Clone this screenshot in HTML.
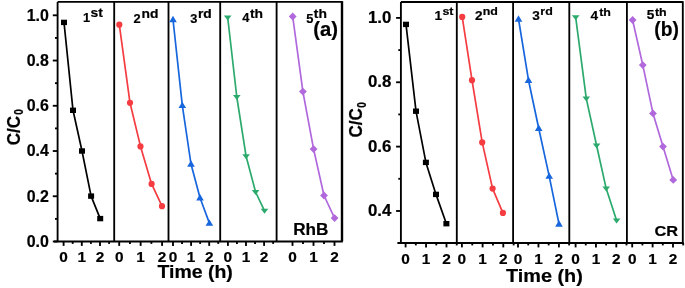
<!DOCTYPE html>
<html><head><meta charset="utf-8"><style>
html,body{margin:0;padding:0;background:#fff;}
body{width:685px;height:288px;overflow:hidden;}
svg{display:block;will-change:transform;}
text{font-family:"Liberation Sans", sans-serif;font-weight:bold;fill:#000;stroke:#000;stroke-width:0.2px;}
.tk{font-size:16.2px;}
.tkx{font-size:15.4px;}
.od{font-size:13px;}
.pl{font-size:19.5px;}
.dye{font-size:16.2px;}
.dye2{font-size:15px;}
.ax{font-size:17.9px;}
.yt{font-size:17px;}
.ys{font-size:10px;}
</style></head><body>
<svg width="685" height="288" viewBox="0 0 685 288">
<rect width="685" height="288" fill="#fff"/>
<path d="M57.6,1.9 H342.0 M57.6,1.9 V241.5 M54.10,241.5 H342.80" stroke="#000" stroke-width="1.85" fill="none"/>
<path d="M342.0,1.10 V241.5" stroke="#000" stroke-width="2.4" fill="none"/>
<path d="M114.2,1.9 V241.5" stroke="#000" stroke-width="1.85" fill="none"/>
<path d="M168.5,1.9 V241.5" stroke="#000" stroke-width="1.85" fill="none"/>
<path d="M220.2,1.9 V241.5" stroke="#000" stroke-width="1.85" fill="none"/>
<path d="M276.6,1.9 V241.5" stroke="#000" stroke-width="1.85" fill="none"/>
<path d="M52.80,241.50 H57.6" stroke="#000" stroke-width="1.85"/>
<text transform="translate(48.90,246.90) scale(0.985,1)" text-anchor="end" class="tk">0.0</text>
<path d="M52.80,196.26 H57.6" stroke="#000" stroke-width="1.85"/>
<text transform="translate(48.90,201.66) scale(0.985,1)" text-anchor="end" class="tk">0.2</text>
<path d="M52.80,151.02 H57.6" stroke="#000" stroke-width="1.85"/>
<text transform="translate(48.90,156.42) scale(0.985,1)" text-anchor="end" class="tk">0.4</text>
<path d="M52.80,105.78 H57.6" stroke="#000" stroke-width="1.85"/>
<text transform="translate(48.90,111.18) scale(0.985,1)" text-anchor="end" class="tk">0.6</text>
<path d="M52.80,60.54 H57.6" stroke="#000" stroke-width="1.85"/>
<text transform="translate(48.90,65.94) scale(0.985,1)" text-anchor="end" class="tk">0.8</text>
<path d="M52.80,15.30 H57.6" stroke="#000" stroke-width="1.85"/>
<text transform="translate(48.90,20.70) scale(0.985,1)" text-anchor="end" class="tk">1.0</text>
<path d="M55.00,218.88 H57.6" stroke="#000" stroke-width="1.85"/>
<path d="M55.00,173.64 H57.6" stroke="#000" stroke-width="1.85"/>
<path d="M55.00,128.40 H57.6" stroke="#000" stroke-width="1.85"/>
<path d="M55.00,83.16 H57.6" stroke="#000" stroke-width="1.85"/>
<path d="M55.00,37.92 H57.6" stroke="#000" stroke-width="1.85"/>
<path d="M63.60,241.5 V245.9" stroke="#000" stroke-width="1.85"/>
<text transform="translate(63.60,262.20) scale(1.0,1)" text-anchor="middle" class="tkx">0</text>
<path d="M72.70,241.5 V243.9" stroke="#000" stroke-width="1.85"/>
<path d="M81.80,241.5 V245.9" stroke="#000" stroke-width="1.85"/>
<text transform="translate(81.80,262.20) scale(1.0,1)" text-anchor="middle" class="tkx">1</text>
<path d="M90.90,241.5 V243.9" stroke="#000" stroke-width="1.85"/>
<path d="M100.00,241.5 V245.9" stroke="#000" stroke-width="1.85"/>
<text transform="translate(100.00,262.20) scale(1.0,1)" text-anchor="middle" class="tkx">2</text>
<path d="M109.10,241.5 V243.9" stroke="#000" stroke-width="1.85"/>
<path d="M119.20,241.5 V245.9" stroke="#000" stroke-width="1.85"/>
<text transform="translate(119.20,262.20) scale(1.0,1)" text-anchor="middle" class="tkx">0</text>
<path d="M129.93,241.5 V243.9" stroke="#000" stroke-width="1.85"/>
<path d="M140.65,241.5 V245.9" stroke="#000" stroke-width="1.85"/>
<text transform="translate(140.65,262.20) scale(1.0,1)" text-anchor="middle" class="tkx">1</text>
<path d="M151.38,241.5 V243.9" stroke="#000" stroke-width="1.85"/>
<path d="M162.10,241.5 V245.9" stroke="#000" stroke-width="1.85"/>
<text transform="translate(162.10,262.20) scale(1.0,1)" text-anchor="middle" class="tkx">2</text>
<path d="M173.00,241.5 V245.9" stroke="#000" stroke-width="1.85"/>
<text transform="translate(173.00,262.20) scale(1.0,1)" text-anchor="middle" class="tkx">0</text>
<path d="M182.05,241.5 V243.9" stroke="#000" stroke-width="1.85"/>
<path d="M191.10,241.5 V245.9" stroke="#000" stroke-width="1.85"/>
<text transform="translate(191.10,262.20) scale(1.0,1)" text-anchor="middle" class="tkx">1</text>
<path d="M200.15,241.5 V243.9" stroke="#000" stroke-width="1.85"/>
<path d="M209.20,241.5 V245.9" stroke="#000" stroke-width="1.85"/>
<text transform="translate(209.20,262.20) scale(1.0,1)" text-anchor="middle" class="tkx">2</text>
<path d="M218.25,241.5 V243.9" stroke="#000" stroke-width="1.85"/>
<path d="M227.90,241.5 V245.9" stroke="#000" stroke-width="1.85"/>
<text transform="translate(227.90,262.20) scale(1.0,1)" text-anchor="middle" class="tkx">0</text>
<path d="M236.95,241.5 V243.9" stroke="#000" stroke-width="1.85"/>
<path d="M246.00,241.5 V245.9" stroke="#000" stroke-width="1.85"/>
<text transform="translate(246.00,262.20) scale(1.0,1)" text-anchor="middle" class="tkx">1</text>
<path d="M255.05,241.5 V243.9" stroke="#000" stroke-width="1.85"/>
<path d="M264.10,241.5 V245.9" stroke="#000" stroke-width="1.85"/>
<text transform="translate(264.10,262.20) scale(1.0,1)" text-anchor="middle" class="tkx">2</text>
<path d="M273.15,241.5 V243.9" stroke="#000" stroke-width="1.85"/>
<path d="M292.50,241.5 V245.9" stroke="#000" stroke-width="1.85"/>
<text transform="translate(292.50,262.20) scale(1.0,1)" text-anchor="middle" class="tkx">0</text>
<path d="M303.00,241.5 V243.9" stroke="#000" stroke-width="1.85"/>
<path d="M313.50,241.5 V245.9" stroke="#000" stroke-width="1.85"/>
<text transform="translate(313.50,262.20) scale(1.0,1)" text-anchor="middle" class="tkx">1</text>
<path d="M324.00,241.5 V243.9" stroke="#000" stroke-width="1.85"/>
<path d="M334.50,241.5 V245.9" stroke="#000" stroke-width="1.85"/>
<text transform="translate(334.50,262.20) scale(1.0,1)" text-anchor="middle" class="tkx">2</text>
<polyline points="64.00,22.40 73.00,110.30 82.00,151.00 91.10,196.10 100.20,218.60" fill="none" stroke="#000" stroke-width="1.7" stroke-linejoin="round"/><rect x="61.00" y="19.70" width="6.0" height="5.4" fill="#000"/><rect x="70.00" y="107.60" width="6.0" height="5.4" fill="#000"/><rect x="79.00" y="148.30" width="6.0" height="5.4" fill="#000"/><rect x="88.10" y="193.40" width="6.0" height="5.4" fill="#000"/><rect x="97.20" y="215.90" width="6.0" height="5.4" fill="#000"/>
<polyline points="119.30,24.70 130.00,102.80 140.50,146.40 151.60,183.90 162.00,206.20" fill="none" stroke="#f43c41" stroke-width="1.7" stroke-linejoin="round"/><circle cx="119.30" cy="24.70" r="3.1" fill="#f43c41"/><circle cx="130.00" cy="102.80" r="3.1" fill="#f43c41"/><circle cx="140.50" cy="146.40" r="3.1" fill="#f43c41"/><circle cx="151.60" cy="183.90" r="3.1" fill="#f43c41"/><circle cx="162.00" cy="206.20" r="3.1" fill="#f43c41"/>
<polyline points="173.00,19.50 182.30,105.40 191.00,164.00 200.00,197.80 209.40,223.10" fill="none" stroke="#1766dd" stroke-width="1.7" stroke-linejoin="round"/><polygon points="173.00,15.80 176.80,22.20 169.20,22.20" fill="#1766dd"/><polygon points="182.30,101.70 186.10,108.10 178.50,108.10" fill="#1766dd"/><polygon points="191.00,160.30 194.80,166.70 187.20,166.70" fill="#1766dd"/><polygon points="200.00,194.10 203.80,200.50 196.20,200.50" fill="#1766dd"/><polygon points="209.40,219.40 213.20,225.80 205.60,225.80" fill="#1766dd"/>
<polyline points="227.70,17.50 236.80,97.00 246.10,156.30 255.60,192.00 264.50,210.80" fill="none" stroke="#2caa6d" stroke-width="1.7" stroke-linejoin="round"/><polygon points="223.90,15.50 231.50,15.50 227.70,20.50" fill="#2caa6d"/><polygon points="233.00,95.00 240.60,95.00 236.80,100.00" fill="#2caa6d"/><polygon points="242.30,154.30 249.90,154.30 246.10,159.30" fill="#2caa6d"/><polygon points="251.80,190.00 259.40,190.00 255.60,195.00" fill="#2caa6d"/><polygon points="260.70,208.80 268.30,208.80 264.50,213.80" fill="#2caa6d"/>
<polyline points="292.70,16.50 302.90,91.60 313.60,149.10 324.00,195.50 334.60,218.10" fill="none" stroke="#b068dc" stroke-width="1.7" stroke-linejoin="round"/><polygon points="292.70,12.60 296.60,16.50 292.70,20.40 288.80,16.50" fill="#b068dc"/><polygon points="302.90,87.70 306.80,91.60 302.90,95.50 299.00,91.60" fill="#b068dc"/><polygon points="313.60,145.20 317.50,149.10 313.60,153.00 309.70,149.10" fill="#b068dc"/><polygon points="324.00,191.60 327.90,195.50 324.00,199.40 320.10,195.50" fill="#b068dc"/><polygon points="334.60,214.20 338.50,218.10 334.60,222.00 330.70,218.10" fill="#b068dc"/>
<path d="M400.9,2.0 H682.8 M400.9,2.0 V243.0 M397.40,243.0 H683.60" stroke="#000" stroke-width="1.85" fill="none"/>
<path d="M682.8,1.20 V243.0" stroke="#000" stroke-width="1.85" fill="none"/>
<path d="M456.8,2.0 V243.0" stroke="#000" stroke-width="1.85" fill="none"/>
<path d="M513.1,2.0 V243.0" stroke="#000" stroke-width="1.85" fill="none"/>
<path d="M569.3,2.0 V243.0" stroke="#000" stroke-width="1.85" fill="none"/>
<path d="M626.9,2.0 V243.0" stroke="#000" stroke-width="1.85" fill="none"/>
<path d="M396.10,210.98 H400.9" stroke="#000" stroke-width="1.85"/>
<text transform="translate(391.30,216.18) scale(1.04,1)" text-anchor="end" class="tk">0.4</text>
<path d="M396.10,146.62 H400.9" stroke="#000" stroke-width="1.85"/>
<text transform="translate(391.30,151.82) scale(1.04,1)" text-anchor="end" class="tk">0.6</text>
<path d="M396.10,82.26 H400.9" stroke="#000" stroke-width="1.85"/>
<text transform="translate(391.30,87.46) scale(1.04,1)" text-anchor="end" class="tk">0.8</text>
<path d="M396.10,17.90 H400.9" stroke="#000" stroke-width="1.85"/>
<text transform="translate(391.30,23.10) scale(1.04,1)" text-anchor="end" class="tk">1.0</text>
<path d="M398.30,178.80 H400.9" stroke="#000" stroke-width="1.85"/>
<path d="M398.30,114.44 H400.9" stroke="#000" stroke-width="1.85"/>
<path d="M398.30,50.08 H400.9" stroke="#000" stroke-width="1.85"/>
<path d="M405.60,243.0 V247.4" stroke="#000" stroke-width="1.85"/>
<text transform="translate(405.60,263.60) scale(1.0,1)" text-anchor="middle" class="tkx">0</text>
<path d="M415.83,243.0 V245.4" stroke="#000" stroke-width="1.85"/>
<path d="M426.05,243.0 V247.4" stroke="#000" stroke-width="1.85"/>
<text transform="translate(426.05,263.60) scale(1.0,1)" text-anchor="middle" class="tkx">1</text>
<path d="M436.28,243.0 V245.4" stroke="#000" stroke-width="1.85"/>
<path d="M446.50,243.0 V247.4" stroke="#000" stroke-width="1.85"/>
<text transform="translate(446.50,263.60) scale(1.0,1)" text-anchor="middle" class="tkx">2</text>
<path d="M456.73,243.0 V245.4" stroke="#000" stroke-width="1.85"/>
<path d="M461.90,243.0 V247.4" stroke="#000" stroke-width="1.85"/>
<text transform="translate(461.90,263.60) scale(1.0,1)" text-anchor="middle" class="tkx">0</text>
<path d="M472.25,243.0 V245.4" stroke="#000" stroke-width="1.85"/>
<path d="M482.60,243.0 V247.4" stroke="#000" stroke-width="1.85"/>
<text transform="translate(482.60,263.60) scale(1.0,1)" text-anchor="middle" class="tkx">1</text>
<path d="M492.95,243.0 V245.4" stroke="#000" stroke-width="1.85"/>
<path d="M503.30,243.0 V247.4" stroke="#000" stroke-width="1.85"/>
<text transform="translate(503.30,263.60) scale(1.0,1)" text-anchor="middle" class="tkx">2</text>
<path d="M513.65,243.0 V245.4" stroke="#000" stroke-width="1.85"/>
<path d="M518.00,243.0 V247.4" stroke="#000" stroke-width="1.85"/>
<text transform="translate(518.00,263.60) scale(1.0,1)" text-anchor="middle" class="tkx">0</text>
<path d="M528.23,243.0 V245.4" stroke="#000" stroke-width="1.85"/>
<path d="M538.45,243.0 V247.4" stroke="#000" stroke-width="1.85"/>
<text transform="translate(538.45,263.60) scale(1.0,1)" text-anchor="middle" class="tkx">1</text>
<path d="M548.67,243.0 V245.4" stroke="#000" stroke-width="1.85"/>
<path d="M558.90,243.0 V247.4" stroke="#000" stroke-width="1.85"/>
<text transform="translate(558.90,263.60) scale(1.0,1)" text-anchor="middle" class="tkx">2</text>
<path d="M569.12,243.0 V245.4" stroke="#000" stroke-width="1.85"/>
<path d="M575.60,243.0 V247.4" stroke="#000" stroke-width="1.85"/>
<text transform="translate(575.60,263.60) scale(1.0,1)" text-anchor="middle" class="tkx">0</text>
<path d="M585.77,243.0 V245.4" stroke="#000" stroke-width="1.85"/>
<path d="M595.95,243.0 V247.4" stroke="#000" stroke-width="1.85"/>
<text transform="translate(595.95,263.60) scale(1.0,1)" text-anchor="middle" class="tkx">1</text>
<path d="M606.12,243.0 V245.4" stroke="#000" stroke-width="1.85"/>
<path d="M616.30,243.0 V247.4" stroke="#000" stroke-width="1.85"/>
<text transform="translate(616.30,263.60) scale(1.0,1)" text-anchor="middle" class="tkx">2</text>
<path d="M626.48,243.0 V245.4" stroke="#000" stroke-width="1.85"/>
<path d="M632.20,243.0 V247.4" stroke="#000" stroke-width="1.85"/>
<text transform="translate(632.20,263.60) scale(1.0,1)" text-anchor="middle" class="tkx">0</text>
<path d="M642.40,243.0 V245.4" stroke="#000" stroke-width="1.85"/>
<path d="M652.60,243.0 V247.4" stroke="#000" stroke-width="1.85"/>
<text transform="translate(652.60,263.60) scale(1.0,1)" text-anchor="middle" class="tkx">1</text>
<path d="M662.80,243.0 V245.4" stroke="#000" stroke-width="1.85"/>
<path d="M673.00,243.0 V247.4" stroke="#000" stroke-width="1.85"/>
<text transform="translate(673.00,263.60) scale(1.0,1)" text-anchor="middle" class="tkx">2</text>
<path d="M683.20,243.0 V245.4" stroke="#000" stroke-width="1.85"/>
<polyline points="406.00,24.40 416.00,111.20 425.90,162.40 436.00,194.40 446.40,223.70" fill="none" stroke="#000" stroke-width="1.7" stroke-linejoin="round"/><rect x="403.00" y="21.70" width="6.0" height="5.4" fill="#000"/><rect x="413.00" y="108.50" width="6.0" height="5.4" fill="#000"/><rect x="422.90" y="159.70" width="6.0" height="5.4" fill="#000"/><rect x="433.00" y="191.70" width="6.0" height="5.4" fill="#000"/><rect x="443.40" y="221.00" width="6.0" height="5.4" fill="#000"/>
<polyline points="462.20,16.90 472.00,80.20 482.20,142.40 492.60,188.60 502.90,212.90" fill="none" stroke="#f43c41" stroke-width="1.7" stroke-linejoin="round"/><circle cx="462.20" cy="16.90" r="3.1" fill="#f43c41"/><circle cx="472.00" cy="80.20" r="3.1" fill="#f43c41"/><circle cx="482.20" cy="142.40" r="3.1" fill="#f43c41"/><circle cx="492.60" cy="188.60" r="3.1" fill="#f43c41"/><circle cx="502.90" cy="212.90" r="3.1" fill="#f43c41"/>
<polyline points="518.50,19.00 528.50,80.20 538.70,128.20 549.20,176.10 559.00,224.00" fill="none" stroke="#1766dd" stroke-width="1.7" stroke-linejoin="round"/><polygon points="518.50,15.30 522.30,21.70 514.70,21.70" fill="#1766dd"/><polygon points="528.50,76.50 532.30,82.90 524.70,82.90" fill="#1766dd"/><polygon points="538.70,124.50 542.50,130.90 534.90,130.90" fill="#1766dd"/><polygon points="549.20,172.40 553.00,178.80 545.40,178.80" fill="#1766dd"/><polygon points="559.00,220.30 562.80,226.70 555.20,226.70" fill="#1766dd"/>
<polyline points="575.70,17.30 586.30,98.60 596.60,145.50 606.20,188.60 616.60,220.60" fill="none" stroke="#2caa6d" stroke-width="1.7" stroke-linejoin="round"/><polygon points="571.90,15.30 579.50,15.30 575.70,20.30" fill="#2caa6d"/><polygon points="582.50,96.60 590.10,96.60 586.30,101.60" fill="#2caa6d"/><polygon points="592.80,143.50 600.40,143.50 596.60,148.50" fill="#2caa6d"/><polygon points="602.40,186.60 610.00,186.60 606.20,191.60" fill="#2caa6d"/><polygon points="612.80,218.60 620.40,218.60 616.60,223.60" fill="#2caa6d"/>
<polyline points="632.60,20.00 642.80,65.10 653.00,113.40 663.00,146.60 673.20,179.90" fill="none" stroke="#b068dc" stroke-width="1.7" stroke-linejoin="round"/><polygon points="632.60,16.10 636.50,20.00 632.60,23.90 628.70,20.00" fill="#b068dc"/><polygon points="642.80,61.20 646.70,65.10 642.80,69.00 638.90,65.10" fill="#b068dc"/><polygon points="653.00,109.50 656.90,113.40 653.00,117.30 649.10,113.40" fill="#b068dc"/><polygon points="663.00,142.70 666.90,146.60 663.00,150.50 659.10,146.60" fill="#b068dc"/><polygon points="673.20,176.00 677.10,179.90 673.20,183.80 669.30,179.90" fill="#b068dc"/>
<text transform="translate(83.03,22.31) scale(1.006,1)" style="font-size:12.78px">1</text>
<text transform="translate(90.43,17.27) scale(1.131,1)" style="font-size:12.25px">st</text>
<text transform="translate(133.61,22.67) scale(1.006,1)" style="font-size:12.78px">2</text>
<text transform="translate(141.50,17.82) scale(1.131,1)" style="font-size:12.25px">nd</text>
<text transform="translate(190.33,22.61) scale(1.006,1)" style="font-size:12.78px">3</text>
<text transform="translate(197.93,17.82) scale(1.131,1)" style="font-size:12.25px">rd</text>
<text transform="translate(242.29,22.46) scale(1.006,1)" style="font-size:12.78px">4</text>
<text transform="translate(249.94,18.06) scale(1.131,1)" style="font-size:12.25px">th</text>
<text transform="translate(306.20,22.55) scale(1.006,1)" style="font-size:12.78px">5</text>
<text transform="translate(313.79,18.36) scale(1.131,1)" style="font-size:12.25px">th</text>
<text transform="translate(434.53,20.14) scale(1.021,1)" style="font-size:13.38px">1</text>
<text transform="translate(442.38,15.17) scale(1.129,1)" style="font-size:11.01px">st</text>
<text transform="translate(475.04,19.93) scale(1.021,1)" style="font-size:13.38px">2</text>
<text transform="translate(482.76,15.37) scale(1.129,1)" style="font-size:11.01px">nd</text>
<text transform="translate(532.26,19.87) scale(1.021,1)" style="font-size:13.38px">3</text>
<text transform="translate(540.33,15.19) scale(1.129,1)" style="font-size:11.01px">rd</text>
<text transform="translate(590.51,20.22) scale(1.021,1)" style="font-size:13.38px">4</text>
<text transform="translate(599.19,15.61) scale(1.129,1)" style="font-size:11.01px">th</text>
<text transform="translate(646.83,19.47) scale(1.021,1)" style="font-size:13.38px">5</text>
<text transform="translate(654.92,15.61) scale(1.129,1)" style="font-size:11.01px">th</text>
<text transform="translate(313.24,35.92) scale(1.044,1)" style="font-size:19.41px">(a)</text>
<text transform="translate(654.29,35.92) scale(0.991,1)" style="font-size:19.41px">(b)</text>
<text transform="translate(293.15,234.65) scale(1.090,1)" style="font-size:15.75px">RhB</text>
<text transform="translate(654.39,235.70) scale(1.077,1)" style="font-size:15.21px">CR</text>
<text transform="translate(157.46,278.49) scale(1.116,1)" style="font-size:17.45px">Time (h)</text>
<text transform="translate(505.95,282.00) scale(1.112,1)" style="font-size:17.87px">Time (h)</text>
<text transform="translate(20.2,145.2) rotate(-90) scale(1,1.1)" class="yt">C/C</text>
<text transform="translate(23.4,114.8) rotate(-90) scale(1,1.35)" class="ys">0</text>
<text transform="translate(362.2,137.4) rotate(-90) scale(1,1.1)" class="yt">C/C</text>
<text transform="translate(366.4,107.7) rotate(-90) scale(1,1.35)" class="ys">0</text>
</svg>
</body></html>
